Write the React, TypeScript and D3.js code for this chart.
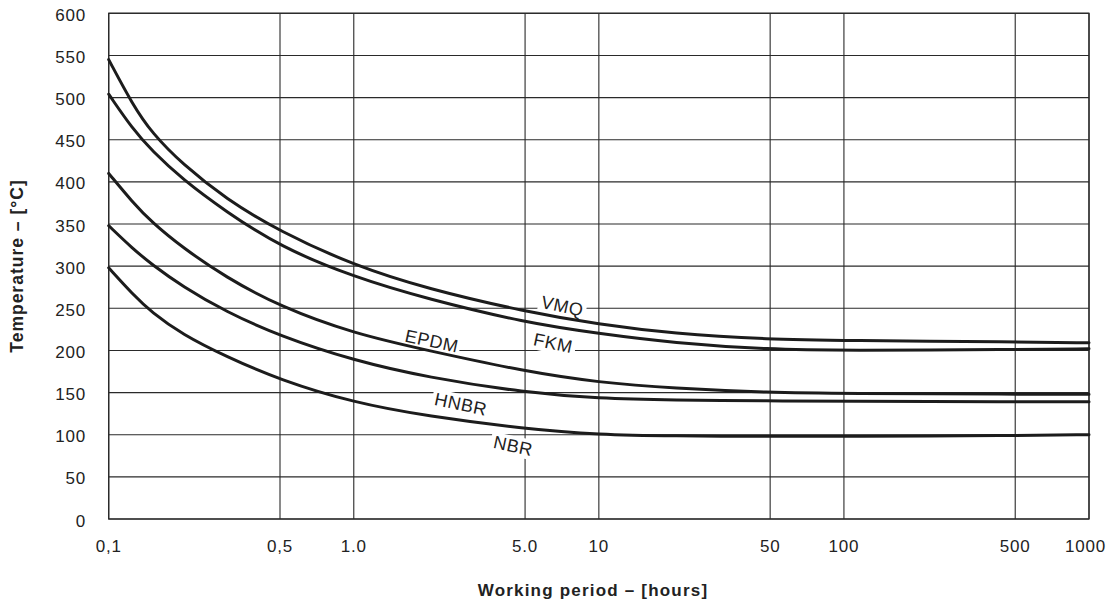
import React from "react";
import * as d3 from "d3";

const hours = [0.1, 0.125, 0.15, 0.2, 0.3, 0.5, 1, 2, 5, 10, 20, 50, 100, 500, 1000];
const vmq = [545, 492, 458, 421, 380, 341, 301, 273, 246, 231, 220, 213, 212, 210, 209];
const fkm = [504, 463, 437, 403, 365, 323, 287, 261, 233, 220, 209, 201, 200, 201, 202];
const epdm = [410, 376, 352, 322, 287, 252, 220, 200, 175, 162, 155, 150, 149, 148, 148];
const hnbr = [348, 321, 302, 276, 246, 217, 188, 168, 150, 143, 141, 140, 140, 139, 139];
const nbr = [298, 267, 245, 219, 193, 165, 138, 122, 107, 100, 98.5, 98, 98, 99, 100];

const seriesNames = ["VMQ", "FKM", "EPDM", "HNBR", "NBR"];
const seriesValues = [vmq, fkm, epdm, hnbr, nbr];

const labelHours = [7.1, 6.5, 2.08, 2.73, 4.47];
const labelTemps = [252.5, 208.5, 211, 136, 86.5];
const labelWidths = [48, 46, 58, 58, 46];

const xTicks = [0.1, 0.5, 1, 5, 10, 50, 100, 500, 1000];
const xTickLabels = ["0,1", "0,5", "1.0", "5.0", "10", "50", "100", "500", "1000"];
const yTicks = [0, 50, 100, 150, 200, 250, 300, 350, 400, 450, 500, 550, 600];

const W = 1107;
const H = 601;
const left = 108.7;
const right = 1089;
const top = 13.3;
const bottom = 519;

export default function App() {
  const x = d3.scaleLog().domain([0.1, 1000]).range([left, right]);
  const y = d3.scaleLinear().domain([0, 600]).range([bottom, top]);
  const line = d3
    .line<[number, number]>()
    .x((d) => x(d[0]))
    .y((d) => y(d[1]))
    .curve(d3.curveBasis);

  const font = "'Liberation Sans', Arial, Helvetica, sans-serif";
  const grid = "#2a2a2a";
  const ink = "#1c1c1c";

  return (
    <svg
      width={W}
      height={H}
      style={{ position: "absolute", left: 0, top: 0, background: "#fff" }}
      fontFamily={font}
    >
      <rect x={0} y={0} width={W} height={H} fill="#fff" />
      {yTicks.map((t) => (
        <line key={"gy" + t} x1={left} x2={right} y1={y(t)} y2={y(t)} stroke={grid} strokeWidth={1.1} />
      ))}
      {xTicks.map((t) => (
        <line key={"gx" + t} x1={x(t)} x2={x(t)} y1={top} y2={bottom} stroke={grid} strokeWidth={1.1} />
      ))}
      <rect x={left} y={top} width={right - left} height={bottom - top} fill="none" stroke={grid} strokeWidth={1.3} />

      {seriesNames.map((n, i) => (
        <g key={"bg" + n} transform={`translate(${x(labelHours[i])},${y(labelTemps[i])}) rotate(12)`}>
          <rect x={-labelWidths[i] / 2} y={-10} width={labelWidths[i]} height={20} fill="#fff" />
        </g>
      ))}

      {seriesValues.map((vals, i) => (
        <path
          key={"s" + i}
          d={line(hours.map((h, j) => [h, vals[j]] as [number, number])) || ""}
          fill="none"
          stroke={ink}
          strokeWidth={3}
          strokeLinecap="round"
        />
      ))}

      {seriesNames.map((n, i) => (
        <text
          key={"lb" + n}
          transform={`translate(${x(labelHours[i])},${y(labelTemps[i])}) rotate(12)`}
          textAnchor="middle"
          dominantBaseline="central"
          fontSize={18}
          letterSpacing={0.5}
          fill="#222"
        >
          {n}
        </text>
      ))}

      {yTicks.map((t) => (
        <text
          key={"ty" + t}
          x={86}
          y={y(t) + 2}
          textAnchor="end"
          dominantBaseline="central"
          fontSize={17}
          letterSpacing={0.8}
          fill="#222"
        >
          {t}
        </text>
      ))}
      {xTicks.map((t, i) => (
        <text
          key={"tx" + t}
          x={i === xTicks.length - 1 ? 1106 : x(t)}
          y={551.5}
          textAnchor={i === xTicks.length - 1 ? "end" : "middle"}
          fontSize={17}
          letterSpacing={0.8}
          fill="#222"
        >
          {xTickLabels[i]}
        </text>
      ))}

      <text
        x={593}
        y={596}
        textAnchor="middle"
        fontSize={17}
        fontWeight="bold"
        letterSpacing={1.2}
        fill="#222"
      >
        Working period – [hours]
      </text>
      <text
        transform={`translate(23,266) rotate(-90)`}
        textAnchor="middle"
        fontSize={17.5}
        fontWeight="bold"
        letterSpacing={1}
        fill="#222"
      >
        Temperature – [°C]
      </text>
    </svg>
  );
}
